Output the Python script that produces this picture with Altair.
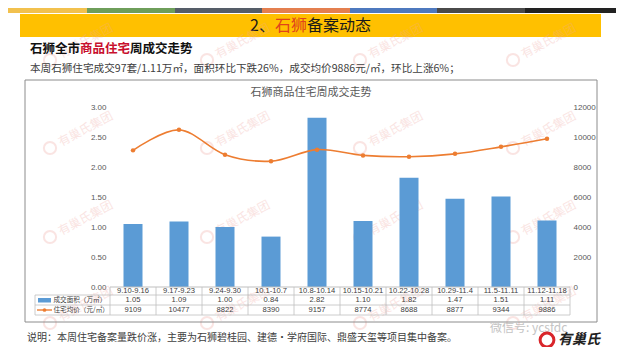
import altair as alt
import pandas as pd

# ---------------- data ----------------
categories = ["9.10-9.16", "9.17-9.23", "9.24-9.30", "10.1-10.7", "10.8-10.14",
              "10.15-10.21", "10.22-10.28", "10.29-11.4", "11.5-11.11", "11.12-11.18"]
area = [1.05, 1.09, 1.00, 0.84, 2.82, 1.10, 1.82, 1.47, 1.51, 1.11]
price = [9109, 10477, 8822, 8390, 9157, 8774, 8688, 8877, 9344, 9886]
left_ticks = [0, 0.5, 1.0, 1.5, 2.0, 2.5, 3.0]
right_ticks = [0, 2000, 4000, 6000, 8000, 10000, 12000]

df = pd.DataFrame({"cat": categories, "area": area, "price": price})
df["area_s"] = [f"{v:.2f}" for v in area]
df["price_s"] = [str(v) for v in price]
one = pd.DataFrame({"k": [0]})

CJK = "Noto Sans CJK SC"
LAT = "Liberation Sans"
PX, PY = 110, 107  # page position of plot origin
W, H = 460, 180

def px(v):
    return v - PX

def py(v):
    return v - PY

def rect(x1, x2, y1, y2, **kw):
    return alt.Chart(one).mark_rect(**kw).encode(
        x=alt.value(px(x1)), x2=alt.value(px(x2)), y=alt.value(py(y1)), y2=alt.value(py(y2)))

def rule(x1, x2, y1, y2, **kw):
    return alt.Chart(one).mark_rule(**kw).encode(
        x=alt.value(px(x1)), x2=alt.value(px(x2)), y=alt.value(py(y1)), y2=alt.value(py(y2)))

def txt(s, x, y, **kw):
    kw.setdefault("align", "left")
    kw.setdefault("baseline", "middle")
    kw.setdefault("font", CJK)
    return alt.Chart(one).mark_text(text=s, **kw).encode(x=alt.value(px(x)), y=alt.value(py(y)))

xenc = alt.X("cat:N", sort=categories, axis=None,
             scale=alt.Scale(paddingInner=0, paddingOuter=0))

layers = []

# top colour band
band_x = [0, 87, 175, 262, 350, 437, 525, 625]
band_c = ["#F2C14E", "#6E9E5A", "#555D68", "#E47F4F", "#4E79BE", "#4A4A4A", "#222222"]
for i, c in enumerate(band_c):
    layers.append(rect(band_x[i], band_x[i + 1], 8, 13, color=c))

# yellow banner + title
layers.append(rect(20, 601, 14, 37, color="#FFC000"))
layers.append(txt("2、", 250, 25.5, fontSize=16, color="#1a1a1a"))
layers.append(txt("石狮", 275, 25.5, fontSize=16, color="#E0431B"))
layers.append(txt("备案动态", 307, 25.5, fontSize=16, color="#1a1a1a"))

# watermarks (drawn faintly)
WM = "#F0A8A2"
for wy in [60, 148, 237, 323]:
    for wx in [50, 207, 360, 513]:
        layers.append(alt.Chart(one).mark_point(filled=False, size=150, color=WM, strokeWidth=2,
                                                opacity=0.3).encode(
            x=alt.value(px(wx)), y=alt.value(py(wy))))
        layers.append(txt("有巢氏集团", wx + 9, wy - 5, fontSize=12, color=WM, angle=332,
                          opacity=0.3))

# subtitle
layers.append(txt("石狮全市", 30, 49, fontSize=12.5, fontWeight="bold", color="#111111"))
layers.append(txt("商品住宅", 80, 49, fontSize=12.5, fontWeight="bold", color="#C8102E"))
layers.append(txt("周成交走势", 130, 49, fontSize=12.5, fontWeight="bold", color="#111111"))
layers.append(txt("本周石狮住宅成交97套/1.11万㎡，面积环比下跌26%，成交均价9886元/㎡，环比上涨6%；",
                  30, 69, fontSize=10.6, color="#404040"))

# chart frame and chart title
layers.append(rect(25, 597, 80, 322, fillOpacity=0, stroke="#8C8C8C", strokeWidth=1))
layers.append(txt("石狮商品住宅周成交走势", 311, 93, align="center", fontSize=11, color="#595959"))

# bars
bars = alt.Chart(df).mark_bar(size=19, color="#5B9BD5").encode(
    x=xenc,
    y=alt.Y("area:Q", scale=alt.Scale(domain=[0, 3], nice=False),
            axis=alt.Axis(values=left_ticks, format=".2f", title=None, grid=False, domain=False,
                          ticks=False, labelPadding=4, labelFontSize=8, labelColor="#595959",
                          labelFont=LAT)))
layers.append(bars)

line = alt.Chart(df).mark_line(color="#ED7D31", strokeWidth=1.6, interpolate="cardinal").encode(
    x=xenc,
    y=alt.Y("price:Q", scale=alt.Scale(domain=[0, 12000], nice=False),
            axis=alt.Axis(orient="right", values=right_ticks, format="d", title=None, grid=False,
                          domain=False, ticks=False, labelPadding=3, labelFontSize=8,
                          labelColor="#595959", labelFont=LAT)))
layers.append(line)
pts = alt.Chart(df).mark_point(filled=True, size=20, color="#ED7D31", opacity=1).encode(
    x=xenc,
    y=alt.Y("price:Q", scale=alt.Scale(domain=[0, 12000], nice=False), axis=None))
layers.append(pts)

# data table
GRID = "#BFBFBF"
layers.append(rule(110, 570, 287, 287, color=GRID, strokeWidth=1))
for yy in [295, 305, 315]:
    layers.append(rule(35, 570, yy, yy, color=GRID, strokeWidth=0.8))
layers.append(rule(35, 35, 295, 315, color=GRID, strokeWidth=0.8))
vlines = alt.Chart(df).mark_rule(color=GRID, strokeWidth=0.8).encode(
    x=alt.X("cat:N", sort=categories, axis=None, bandPosition=0,
            scale=alt.Scale(paddingInner=0, paddingOuter=0)),
    y=alt.value(py(287)), y2=alt.value(py(315)))
layers.append(vlines)
layers.append(rule(570, 570, 287, 315, color=GRID, strokeWidth=0.8))

for field, yy in [("cat", 291), ("area_s", 300), ("price_s", 310)]:
    layers.append(alt.Chart(df).mark_text(fontSize=7.6, color="#404040", font=LAT,
                                          baseline="middle").encode(
        x=xenc, y=alt.value(py(yy)), text=f"{field}:N"))

# table legend
layers.append(rect(38, 51, 298, 302.5, color="#5B9BD5"))
layers.append(txt("成交面积（万㎡）", 53.5, 300, fontSize=6.6, color="#404040"))
layers.append(rule(37, 52, 310, 310, color="#ED7D31", strokeWidth=1.4))
layers.append(alt.Chart(one).mark_point(filled=True, size=14, color="#ED7D31", opacity=1).encode(
    x=alt.value(px(44.5)), y=alt.value(py(310))))
layers.append(txt("住宅均价（元/㎡）", 53.5, 310, fontSize=6.6, color="#404040"))

# note
layers.append(txt("说明：本周住宅备案量跌价涨，主要为石狮碧桂园、建德·学府国际、鼎盛天玺等项目集中备案。",
                  27, 338, fontSize=10, color="#404040"))

# wechat mark + logo
layers.append(txt("微信号: ycsfdc", 490, 328, fontSize=12, color="#C4C4C4"))
layers.append(alt.Chart(one).mark_point(filled=False, size=190, color="#D9262B", strokeWidth=3,
                                        opacity=1).encode(
    x=alt.value(px(547)), y=alt.value(py(340))))
layers.append(txt("有巢氏", 558, 340, fontSize=14, fontWeight="bold", fontStyle="italic",
                  color="#222222"))

chart = alt.layer(*layers).resolve_scale(y="independent").properties(
    width=W, height=H,
    padding={"left": 102, "top": 99, "right": 46, "bottom": 60},
    autosize=alt.AutoSizeParams(type="none"),
    background="white",
).configure_view(strokeWidth=0)

chart.save("out.html", embed_options={"renderer": "svg", "actions": False})
